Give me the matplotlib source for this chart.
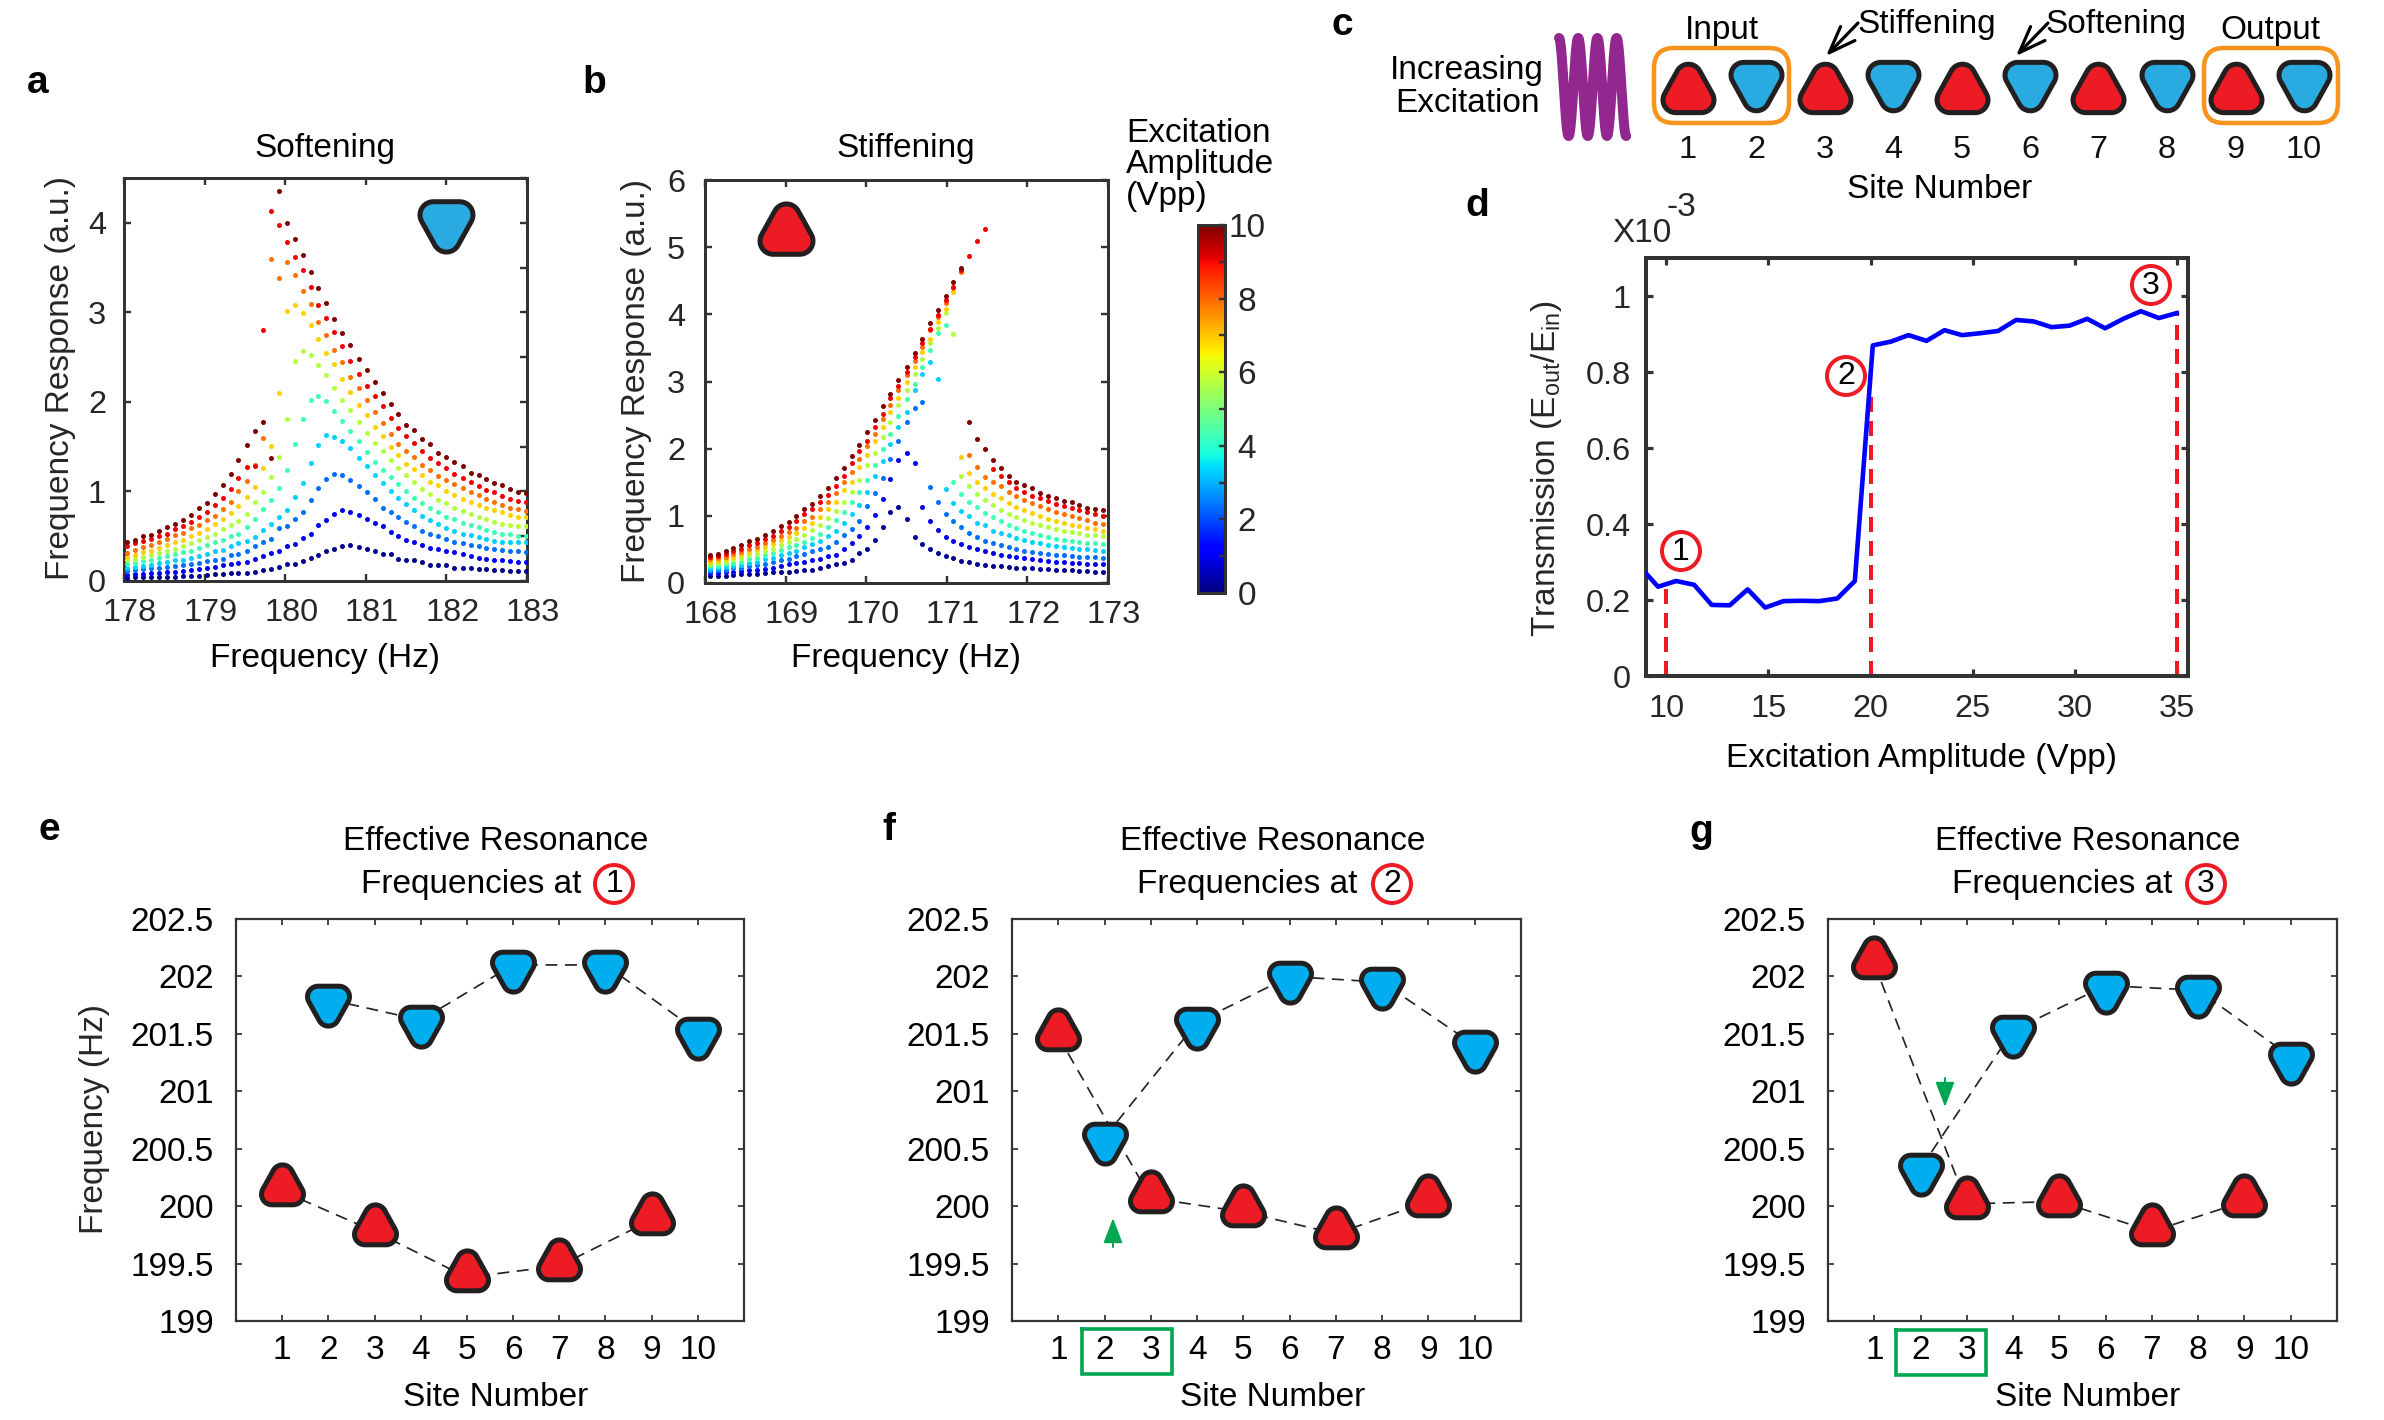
import numpy as np
import matplotlib
matplotlib.use("Agg")
import matplotlib.pyplot as plt
from matplotlib.path import Path
from matplotlib.patches import FancyBboxPatch, Circle
from matplotlib.transforms import ScaledTranslation
from matplotlib.cm import ScalarMappable
from matplotlib.colors import Normalize
from matplotlib.ticker import MultipleLocator

plt.rcParams['font.family'] = ['Liberation Sans', 'DejaVu Sans']
plt.rcParams['mathtext.fontset'] = 'custom'
plt.rcParams['mathtext.rm'] = 'Liberation Sans'
plt.rcParams['mathtext.default'] = 'regular'

# ---------- data ----------
level_colors = ['#000090', '#0000f0', '#0070ff', '#00d0ff', '#40ffb0',
                '#b0ff40', '#ffd000', '#ff7000', '#f00000', '#800000']

soft_freq = [178.04,178.14,178.24,178.34,178.44,178.53,178.63,178.73,178.83,178.93,179.03,179.13,179.23,179.33,179.42,179.52,179.62,179.72,179.82,179.92,180.02,180.12,180.22,180.32,180.41,180.51,180.61,180.71,180.81,180.91,181.01,181.11,181.21,181.31,181.40,181.50,181.60,181.70,181.80,181.90,182.00,182.10,182.20,182.30,182.40,182.49,182.59,182.69,182.79,182.89,182.99]
soft_1 = [.03,.04,.04,.04,.05,.05,.05,.06,.06,.06,.07,.08,.08,.09,.09,.09,.10,.12,.13,.16,.19,.19,.22,.26,.29,.33,.36,.39,.40,.385,.36,.34,.30,.30,.25,.24,.23,.21,.18,.18,.18,.15,.15,.14,.13,.13,.12,.12,.115,.115,.11]
soft_2 = [.07,.08,.08,.09,.09,.10,.10,.11,.12,.13,.15,.16,.18,.19,.20,.21,.25,.28,.31,.33,.39,.41,.48,.53,.62,.68,.75,.79,.77,.74,.69,.65,.61,.55,.50,.46,.43,.40,.37,.36,.34,.32,.30,.28,.26,.25,.24,.23,.22,.21,.21]
soft_3 = [.11,.12,.13,.14,.15,.16,.17,.18,.19,.20,.22,.24,.25,.29,.30,.33,.39,.44,.47,.59,.61,.69,.77,.91,1.04,1.14,1.19,1.18,1.13,1.06,.99,.92,.82,.77,.71,.66,.61,.56,.52,.50,.47,.44,.42,.40,.39,.37,.36,.35,.34,.33,.32]
soft_4 = [.15,.16,.17,.18,.20,.21,.23,.24,.26,.28,.30,.33,.35,.39,.42,.45,.49,.57,.64,.71,.79,.94,1.09,1.32,1.52,1.63,1.61,1.56,1.48,1.37,1.28,1.18,1.09,1.00,.93,.86,.79,.73,.68,.64,.59,.56,.53,.51,.49,.47,.45,.44,.44,.44,.44]
soft_5 = [.19,.20,.22,.24,.26,.28,.30,.32,.34,.37,.40,.43,.46,.50,.53,.60,.69,.80,.90,1.04,1.24,1.53,1.81,2.02,2.07,2.01,1.90,1.79,1.67,1.56,1.44,1.33,1.24,1.16,1.08,1.00,.93,.87,.81,.77,.72,.69,.65,.63,.60,.57,.55,.53,.52,.50,.50]
soft_6 = [.23,.25,.27,.29,.31,.34,.36,.39,.42,.46,.49,.53,.58,.62,.67,.75,.88,.99,1.16,1.39,1.81,2.46,2.57,2.52,2.41,2.30,2.16,2.02,1.91,1.77,1.65,1.54,1.45,1.35,1.26,1.18,1.10,1.03,.97,.91,.87,.82,.78,.75,.72,.69,.66,.64,.63,.61,.61]
soft_7 = [.27,.29,.32,.34,.37,.40,.43,.46,.50,.54,.58,.64,.69,.76,.84,.94,1.05,1.26,1.51,2.10,3.01,3.08,2.99,2.86,2.70,2.55,2.42,2.26,2.11,1.97,1.85,1.72,1.62,1.50,1.41,1.31,1.25,1.18,1.11,1.07,1.00,.96,.92,.88,.85,.82,.79,.77,.74,.72,.71]
soft_8 = [.31,.35,.38,.40,.44,.47,.51,.54,.59,.63,.68,.73,.80,.88,1.00,1.12,1.29,1.60,3.59,3.38,3.56,3.42,3.24,3.09,2.89,2.75,2.58,2.44,2.28,2.16,2.02,1.89,1.76,1.64,1.53,1.45,1.38,1.29,1.24,1.17,1.13,1.08,1.04,.99,.96,.92,.88,.85,.82,.80,.78]
soft_9 = [.39,.42,.45,.47,.50,.53,.58,.61,.66,.71,.77,.85,.93,1.03,1.15,1.27,1.28,2.80,4.13,3.97,3.79,3.62,3.47,3.28,3.08,2.94,2.78,2.62,2.46,2.31,2.18,2.07,1.95,1.82,1.71,1.62,1.54,1.45,1.37,1.32,1.26,1.20,1.15,1.10,1.06,1.02,.99,.95,.92,.89,.88]
soft_10 = [.43,.46,.50,.51,.56,.60,.64,.68,.74,.81,.87,.97,1.07,1.19,1.35,1.52,1.68,1.77,1.37,4.35,4.00,3.82,3.64,3.45,3.27,3.10,2.93,2.77,2.63,2.48,2.36,2.22,2.10,1.98,1.87,1.74,1.69,1.59,1.53,1.43,1.39,1.33,1.28,1.21,1.18,1.14,1.09,1.07,1.03,.99,.98]

stiff_freq = [168.06,168.16,168.26,168.35,168.45,168.55,168.65,168.74,168.84,168.94,169.04,169.13,169.23,169.33,169.43,169.52,169.62,169.72,169.82,169.91,170.01,170.11,170.21,170.30,170.40,170.50,170.60,170.69,170.79,170.89,170.99,171.08,171.18,171.28,171.38,171.47,171.57,171.67,171.77,171.86,171.96,172.06,172.16,172.25,172.35,172.45,172.55,172.64,172.74,172.84,172.94]
stiff_1 = [.11,.11,.11,.12,.13,.14,.14,.15,.16,.16,.17,.18,.19,.20,.22,.26,.28,.30,.34,.44,.51,.64,.84,1.05,1.13,.96,.68,.58,.50,.44,.40,.37,.33,.31,.29,.27,.26,.25,.24,.23,.22,.22,.21,.21,.20,.19,.19,.18,.18,.17,.16]
stiff_2 = [.15,.15,.16,.17,.18,.19,.20,.21,.23,.25,.28,.30,.32,.34,.35,.40,.42,.50,.60,.70,.83,1.01,1.25,1.55,1.83,1.94,1.79,1.13,.92,.79,.69,.62,.58,.54,.50,.47,.44,.42,.40,.38,.37,.35,.34,.33,.32,.31,.30,.30,.29,.28,.28]
stiff_3 = [.18,.19,.20,.22,.23,.25,.27,.29,.31,.34,.36,.40,.43,.47,.50,.54,.61,.72,.80,.93,1.14,1.34,1.57,1.84,2.12,2.40,2.60,2.70,1.43,1.21,1.03,.92,.83,.75,.68,.63,.59,.56,.53,.50,.48,.46,.45,.43,.42,.41,.40,.39,.38,.38,.37]
stiff_4 = [.21,.23,.24,.26,.27,.30,.32,.35,.37,.41,.45,.48,.53,.58,.62,.70,.78,.89,1.02,1.16,1.36,1.60,1.82,2.07,2.33,2.55,2.87,3.11,3.29,3.04,1.40,1.19,1.07,1.00,.90,.86,.78,.75,.71,.67,.64,.61,.59,.57,.55,.53,.52,.51,.50,.49,.48]
stiff_5 = [.25,.26,.28,.30,.32,.35,.37,.41,.44,.49,.53,.57,.61,.67,.73,.83,.94,1.05,1.20,1.36,1.53,1.76,2.00,2.22,2.48,2.74,2.97,3.21,3.47,3.72,3.84,1.51,1.33,1.21,1.13,1.04,.98,.92,.87,.82,.78,.74,.71,.68,.66,.64,.62,.61,.60,.59,.58]
stiff_6 = [.28,.30,.31,.35,.37,.41,.43,.48,.51,.56,.61,.65,.71,.79,.86,.97,1.07,1.21,1.36,1.53,1.75,1.93,2.18,2.40,2.65,2.88,3.11,3.34,3.57,3.80,4.02,3.70,1.59,1.44,1.32,1.24,1.16,1.09,1.03,.98,.94,.90,.87,.84,.81,.78,.76,.74,.72,.71,.70]
stiff_7 = [.31,.33,.35,.39,.41,.46,.49,.54,.58,.64,.68,.74,.82,.89,.98,1.10,1.21,1.38,1.51,1.72,1.90,2.12,2.33,2.55,2.76,2.99,3.21,3.44,3.64,3.89,4.08,4.33,1.87,1.64,1.51,1.42,1.33,1.26,1.19,1.13,1.08,1.04,1.00,.96,.93,.90,.87,.85,.82,.80,.78]
stiff_8 = [.35,.37,.39,.43,.46,.51,.54,.60,.64,.70,.76,.82,.92,.99,1.10,1.20,1.34,1.50,1.65,1.84,2.04,2.22,2.44,2.65,2.88,3.10,3.31,3.51,3.76,3.96,4.17,4.39,4.63,1.90,1.73,1.58,1.51,1.44,1.36,1.30,1.24,1.19,1.15,1.10,1.06,1.03,1.00,.97,.94,.90,.88]
stiff_9 = [.38,.40,.43,.47,.51,.57,.60,.66,.70,.78,.84,.92,1.02,1.10,1.21,1.31,1.45,1.60,1.79,1.96,2.12,2.33,2.51,2.75,2.93,3.14,3.37,3.57,3.78,3.99,4.22,4.41,4.66,4.87,5.09,5.27,1.70,1.60,1.50,1.42,1.36,1.30,1.26,1.22,1.18,1.15,1.12,1.09,1.05,1.02,1.00]
stiff_10 = [.41,.43,.47,.52,.56,.63,.66,.72,.77,.85,.91,1.00,1.10,1.18,1.30,1.42,1.56,1.71,1.89,2.06,2.25,2.43,2.63,2.82,3.02,3.22,3.43,3.64,3.87,4.07,4.28,4.48,4.69,2.40,2.14,2.00,1.83,1.71,1.60,1.50,1.46,1.41,1.34,1.30,1.26,1.22,1.20,1.16,1.12,1.10,1.08]

amp_vpp = [9.0,9.59,10.48,11.36,12.22,13.10,13.98,14.84,15.73,16.61,17.49,18.37,19.23,20.11,21.0,21.86,22.74,23.62,24.48,25.36,26.25,27.13,27.99,28.87,29.75,30.61,31.49,32.38,33.24,34.12,35.0]
transmission = [.27,.235,.25,.24,.187,.186,.228,.18,.197,.198,.197,.204,.25,.87,.88,.897,.882,.91,.897,.902,.908,.937,.933,.918,.922,.94,.915,.94,.96,.942,.955]
marked_amp = [10, 20, 35]
marked_top = [.24, .74, .96]

odd_sites = [1, 3, 5, 7, 9]
even_sites = [2, 4, 6, 8, 10]
all_sites = [1, 2, 3, 4, 5, 6, 7, 8, 9, 10]
e_red = [200.13, 199.78, 199.38, 199.48, 199.88]
e_blue = [201.8, 201.62, 202.1, 202.1, 201.52]
f_red = [201.48, 200.07, 199.95, 199.76, 200.04]
f_blue = [200.6, 201.6, 202.0, 201.95, 201.4]
g_red = [202.11, 200.02, 200.04, 199.78, 200.04]
g_blue = [200.33, 201.53, 201.92, 201.88, 201.3]
freq_ticks = [199, 199.5, 200, 200.5, 201, 201.5, 202, 202.5]
freq_labels = ['199', '199.5', '200', '200.5', '201', '201.5', '202', '202.5']
site_labels = ['1', '2', '3', '4', '5', '6', '7', '8', '9', '10']

# ---------- helpers ----------
W, H = 2384, 1420
DPI = 100
FS = 24
INK = '#262626'
RED = '#ED1C24'
BLUE_A = '#29ABE2'
BLUE_E = '#00AEEF'
EDGE = '#231F20'
GREEN = '#00A651'
ORANGE = '#F7941D'
px = 72 / DPI

fig = plt.figure(figsize=(W / DPI, H / DPI), dpi=DPI, facecolor='white')


def make_ax(l, t, r, b):
    a = fig.add_axes([l / W, 1 - b / H, (r - l) / W, (b - t) / H])
    a._box = (l, t, r, b)
    return a


def place_xlabel(a, text, cx, cy):
    l, t, r, b = a._box
    a.set_xlabel(text, fontsize=FS, color='black', va='center', ha='center')
    a.xaxis.set_label_coords((cx - l) / (r - l), (b - cy) / (b - t))


def place_ylabel(a, text, cx, cy):
    l, t, r, b = a._box
    a.set_ylabel(text, fontsize=FS, color=INK, va='center', ha='center')
    a.yaxis.set_label_coords((cx - l) / (r - l), (b - cy) / (b - t))


def place_title(a, text, cx, cy):
    l, t, r, b = a._box
    a.set_title(text, fontsize=FS, color='black', va='center', ha='center', pad=0,
                x=(cx - l) / (r - l), y=(b - cy) / (b - t))


def style(a, lw, padx, pady, color=INK, tlen=7):
    for s in a.spines.values():
        s.set_linewidth(lw * px)
        s.set_color('#333333')
    a.tick_params(which='both', direction='in', top=True, right=True, length=tlen * px,
                  width=lw * 0.8 * px, color='#333333', labelsize=FS - 0.6, labelcolor=color)
    a.tick_params(axis='x', pad=padx * px)
    a.tick_params(axis='y', pad=pady * px)


def tri_path(flip=False, w=1.0, h=0.95, r=0.25):
    """Rounded triangle with its centroid at the origin."""
    cs = np.array([[w / 2 - r, -h / 3 + r], [0, 2 * h / 3 - r], [-(w / 2 - r), -h / 3 + r]])
    d = cs[1] - cs[0]
    d = d / np.hypot(*d)
    nr = np.array([d[1], -d[0]])
    nr = nr if nr[0] > 0 else -nr
    ang = np.arctan2(nr[1], nr[0])
    pts = []
    for c, a0, a1 in [(cs[0], -np.pi / 2, ang), (cs[1], ang, np.pi - ang),
                      (cs[2], np.pi - ang, 3 * np.pi / 2)]:
        th = np.linspace(a0, a1, 14)
        pts.append(np.c_[c[0] + r * np.cos(th), c[1] + r * np.sin(th)])
    v = np.vstack(pts + [pts[0][:1]])
    if flip:
        v = v * [1, -1]
    codes = [Path.MOVETO] + [Path.LINETO] * (len(v) - 2) + [Path.CLOSEPOLY]
    return Path(v, codes)


UP = tri_path(False)
DOWN = tri_path(True)
_scale = 2 * np.abs(UP.vertices).max()


def draw_marker(a, x, y, flip, color, width_px, stroke_px, **kw):
    a.plot(x, y, ls='none', marker=DOWN if flip else UP,
           ms=(width_px - stroke_px) * _scale * px,
           mfc=color, mec=EDGE, mew=stroke_px * px, **kw)


# ---------- overlay in pixel coordinates (schematics and annotations) ----------
ov = fig.add_axes([0, 0, 1, 1], zorder=20)
ov.set_xlim(0, W)
ov.set_ylim(H, 0)
ov.axis('off')
ov.patch.set_alpha(0)


def otext(x, y, s, size=FS, **kw):
    kw.setdefault('ha', 'center')
    kw.setdefault('va', 'center')
    ov.text(x, y, s, fontsize=size, **kw)


def num_circle(x, y, s, r=19):
    ov.add_patch(Circle((x, y), r, fc='none', ec=RED, lw=4 * px))
    otext(x, y + 0.5, s, size=23)


# ---------- panel a ----------
ax_a = make_ax(124, 178, 527, 581)
soft_all = [soft_1, soft_2, soft_3, soft_4, soft_5, soft_6, soft_7, soft_8, soft_9, soft_10]
for vals, c in zip(soft_all, level_colors):
    ax_a.scatter(soft_freq, vals, s=13, color=c, linewidths=0, zorder=3)
ax_a.set_xlim(178, 183)
ax_a.set_ylim(0, 4.5)
ax_a.set_xticks([178, 179, 180, 181, 182, 183])
ax_a.set_yticks([0, 1, 2, 3, 4])
ax_a.yaxis.set_minor_locator(MultipleLocator(0.5))
style(ax_a, 3, 17, 18)
ax_a.tick_params(axis='y', which='minor', left=False, right=True)
ax_a.tick_params(axis='x', which='minor', top=False, bottom=False)
place_xlabel(ax_a, 'Frequency (Hz)', 325, 659)
place_ylabel(ax_a, 'Frequency Response (a.u.)', 61, 378)
place_title(ax_a, 'Softening', 325, 148)

# ---------- panel b ----------
ax_b = make_ax(705, 180, 1108, 583)
stiff_all = [stiff_1, stiff_2, stiff_3, stiff_4, stiff_5, stiff_6, stiff_7, stiff_8, stiff_9, stiff_10]
for vals, c in zip(stiff_all, level_colors):
    ax_b.scatter(stiff_freq, vals, s=13, color=c, linewidths=0, zorder=3)
ax_b.set_xlim(168, 173)
ax_b.set_ylim(0, 6)
ax_b.set_xticks([168, 169, 170, 171, 172, 173])
ax_b.set_yticks([0, 1, 2, 3, 4, 5, 6])
style(ax_b, 3, 17, 20)
place_xlabel(ax_b, 'Frequency (Hz)', 906, 659)
place_ylabel(ax_b, 'Frequency Response (a.u.)', 636, 381)
place_title(ax_b, 'Stiffening', 906, 148)

for a in (ax_a, ax_b):
    for lbl in a.get_xticklabels():
        lbl.set_transform(lbl.get_transform() + ScaledTranslation(6 / DPI, 0, fig.dpi_scale_trans))

# colour bar
cax = make_ax(1198, 225, 1225, 593)
cb = fig.colorbar(ScalarMappable(Normalize(0, 10), 'jet'), cax=cax)
cb.set_ticks([0, 2, 4, 6, 8, 10])
cb.ax.yaxis.set_minor_locator(MultipleLocator(1))
cb.outline.set_linewidth(3 * px)
cb.outline.set_edgecolor('#333333')
cax.tick_params(which='both', direction='in', length=6 * px, width=2.4 * px, color='#333333',
                labelsize=FS, labelcolor=INK, pad=22 * px, left=False, right=True)
for lbl in cax.get_yticklabels():
    lbl.set_ha('center')
for yy, s in zip([134, 164, 197], ['Excitation', 'Amplitude', '(Vpp)']):
    otext(1126, yy, s, ha='left')

# ---------- panel c ----------
c_x = [1688, 1756, 1825, 1893, 1962, 2030, 2098, 2167, 2236, 2304]
for i, (x, s) in enumerate(zip(c_x, site_labels)):
    is_blue = i % 2 == 1
    draw_marker(ov, [x], [78 if is_blue else 96], is_blue, BLUE_A if is_blue else RED, 56, 5)
    otext(x, 150, s, color='#111111', size=FS - 0.6)
otext(1940, 190, 'Site Number')
otext(1722, 30, 'Input')
otext(1927, 25, 'Stiffening')
otext(2116, 25, 'Softening')
otext(2270, 30, 'Output')
otext(1467, 70, 'Increasing')
otext(1467, 103, 'Excitation')
for x0, x1 in [(1654, 1789), (2204, 2338)]:
    ov.add_patch(FancyBboxPatch((x0 + 20, 48 + 20), x1 - x0 - 40, 75 - 40,
                                boxstyle='round,pad=20,rounding_size=20',
                                fc='none', ec=ORANGE, lw=4.5 * px))
for (xa, ya, xb, yb) in [(1858, 23, 1826, 56), (2048, 23, 2016, 56)]:
    ov.annotate('', xy=(xb, yb), xytext=(xa, ya),
                arrowprops=dict(arrowstyle='->,head_length=0.8,head_width=0.3', lw=3.2 * px,
                                color='black', mutation_scale=24, shrinkA=0, shrinkB=0))
# coil
t = np.linspace(0, 3.5, 400)
ov.plot(1559 + 19.2 * t, 87 - 49 * np.cos(2 * np.pi * t),
        color='#92278F', lw=10 * px, solid_capstyle='round')

# ---------- panel d ----------
ax_d = make_ax(1646, 258, 2188, 676)
for xv, top in zip(marked_amp, marked_top):
    ax_d.plot([xv, xv], [0, top], color=RED, lw=4 * px, dashes=(3.75, 2.25), zorder=2)
ax_d.plot(amp_vpp, transmission, color='#0000FF', lw=4.6 * px, zorder=3)
ax_d.set_xlim(9, 35.55)
ax_d.set_ylim(0, 1.1)
ax_d.set_xticks([10, 15, 20, 25, 30, 35])
ax_d.set_yticks([0, .2, .4, .6, .8, 1])
ax_d.set_yticklabels(['0', '0.2', '0.4', '0.6', '0.8', '1'])
style(ax_d, 4, 18, 15)
place_xlabel(ax_d, 'Excitation Amplitude (Vpp)', 1921, 759)
place_ylabel(ax_d, 'Transmission (E$_{out}$/E$_{in}$)', 1546, 469)
otext(1642, 234, 'X10', color=INK)
otext(1681, 207, '-3', color=INK)
num_circle(1681, 551, '1')
num_circle(1846, 376, '2')
num_circle(2151, 285, '3')


# ---------- panels e, f, g ----------
def site_panel(box, red, blue, title_cx, line2_cx, circle_x, num, lab_cx, ylab=False):
    a = make_ax(*box)
    a.plot(odd_sites, red, color='#222222', lw=1.7 * px, dashes=(7, 4.5), zorder=2)
    a.plot(even_sites, blue, color='#222222', lw=1.7 * px, dashes=(7, 4.5), zorder=2)
    draw_marker(a, even_sites, blue, True, BLUE_E, 47, 5, zorder=3, clip_on=False)
    draw_marker(a, odd_sites, red, False, RED, 47, 5, zorder=3, clip_on=False)
    a.set_xlim(0, 11)
    a.set_ylim(199, 202.5)
    a.set_xticks(all_sites)
    a.set_xticklabels(site_labels)
    a.set_yticks(freq_ticks)
    a.set_yticklabels(freq_labels)
    style(a, 2.2, 14, 22, color='black', tlen=6)
    a.tick_params(labelsize=FS)
    place_xlabel(a, 'Site Number', lab_cx, 1398)
    if ylab:
        place_ylabel(a, 'Frequency (Hz)', 95, 1119)
    place_title(a, 'Effective Resonance', title_cx, 841)
    otext(line2_cx, 885, 'Frequencies at')
    num_circle(circle_x, 884, num)
    return a


ax_e = site_panel((236, 919, 744, 1321), e_red, e_blue, 496, 471, 614, '1', 496, ylab=True)
ax_f = site_panel((1012, 919, 1521, 1321), f_red, f_blue, 1273, 1247, 1392, '2', 1273)
ax_g = site_panel((1828, 919, 2337, 1321), g_red, g_blue, 2088, 2062, 2206, '3', 2088)

for (x0, y0, x1, y1) in [(1082, 1329, 1172, 1374), (1896, 1330, 1986, 1375)]:
    ov.plot([x0, x1, x1, x0, x0], [y0, y0, y1, y1, y0], color=GREEN, lw=3.6 * px, solid_joinstyle='miter')
for (xa, ya, xb, yb) in [(1113, 1247, 1113, 1218), (1945, 1078, 1945, 1107)]:
    ov.annotate('', xy=(xb, yb), xytext=(xa, ya),
                arrowprops=dict(arrowstyle='-|>,head_length=1.1,head_width=0.42', lw=2 * px,
                                color=GREEN, mutation_scale=14, shrinkA=0, shrinkB=0))

# inset markers of panels a and b
draw_marker(ov, [446], [218], True, BLUE_A, 58, 5)
draw_marker(ov, [786], [237], False, RED, 58, 5)

# panel letters
for x, y, s in [(38, 83, 'a'), (594, 83, 'b'), (1342, 25, 'c'), (1477, 206, 'd'),
                (49, 830, 'e'), (889, 830, 'f'), (1701, 832, 'g')]:
    otext(x, y, s, size=28, fontweight='bold')

fig.savefig('out.png', dpi=DPI, facecolor='white')
